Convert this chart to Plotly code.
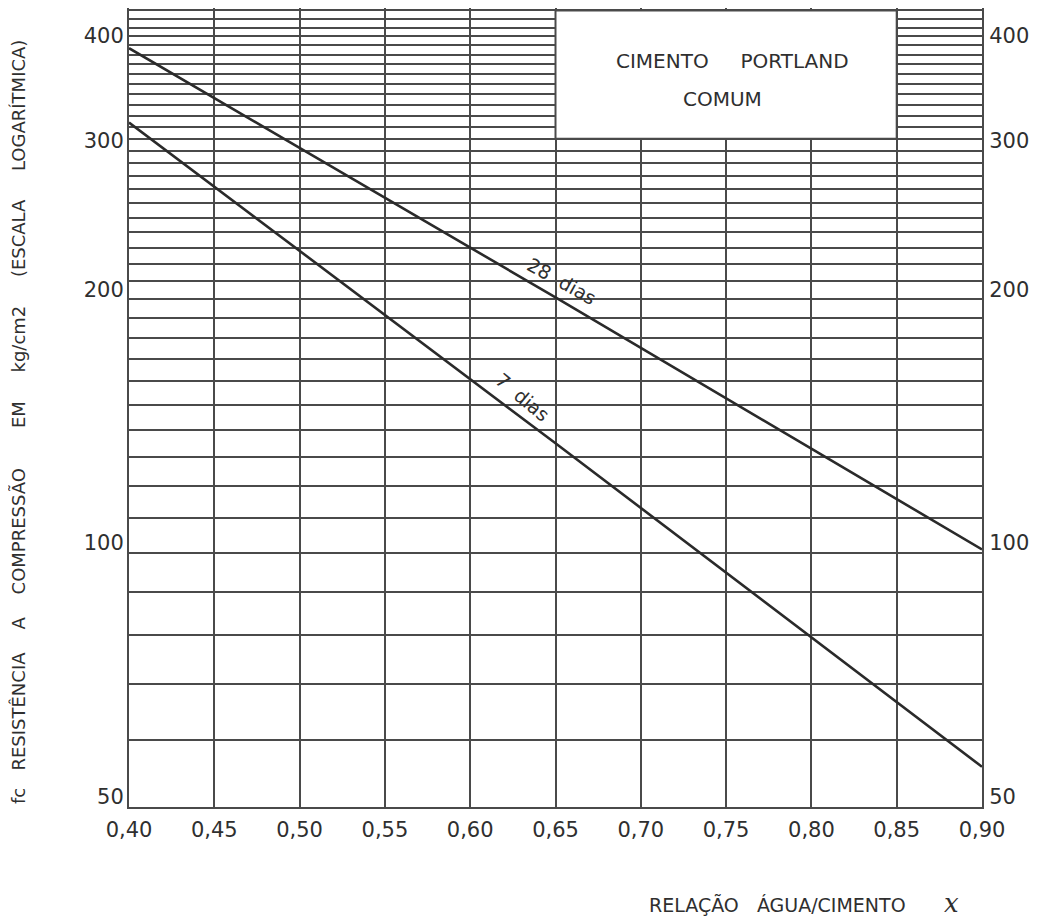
import math
import plotly.graph_objects as go

# ---------------- data ----------------
ratio = [0.40, 0.65, 0.90]                 # water/cement ratio where the lines were read
fc_28_dias = [397, 201, 101]               # kg/cm2, 28 days (straight line on log scale)
fc_7_dias = [324, 135, 55.8]               # kg/cm2, 7 days

x_tick_vals = [0.40, 0.45, 0.50, 0.55, 0.60, 0.65, 0.70, 0.75, 0.80, 0.85, 0.90]
x_tick_text = ["0,40", "0,45", "0,50", "0,55", "0,60", "0,65", "0,70", "0,75", "0,80", "0,85", "0,90"]
y_grid_vals = list(range(50, 450, 10))
y_label_vals = [50, 100, 200, 300, 400]
y_range = [50, 443]

# ---------------- style ----------------
INK = "#2f2f2f"
GRID = "#4a4a4a"
FONT = "DejaVu Sans"
NB = "\u00a0"

y_tick_text = [str(v) if v in y_label_vals else "" for v in y_grid_vals]
log_range = [math.log10(y_range[0]), math.log10(y_range[1])]

fig = go.Figure()
fig.add_trace(go.Scatter(x=ratio, y=fc_28_dias, mode="lines", name="28 dias",
                         line=dict(color="#2a2a2a", width=2.6), hoverinfo="x+y"))
fig.add_trace(go.Scatter(x=ratio, y=fc_7_dias, mode="lines", name="7 dias",
                         line=dict(color="#2a2a2a", width=2.6), hoverinfo="x+y"))
# companion trace so the right-hand axis is drawn
fig.add_trace(go.Scatter(x=ratio, y=fc_28_dias, yaxis="y2", mode="lines",
                         line=dict(width=0, color="rgba(0,0,0,0)"), hoverinfo="skip",
                         showlegend=False))

fig.update_layout(
    width=1037, height=921,
    margin=dict(l=121, r=63, t=0, b=122),
    paper_bgcolor="white", plot_bgcolor="white",
    showlegend=False,
    font=dict(family=FONT, color=INK, size=20),
    xaxis=dict(
        range=[x_tick_vals[0], x_tick_vals[-1]],
        tickmode="array", tickvals=x_tick_vals, ticktext=x_tick_text,
        showgrid=True, gridcolor=GRID, gridwidth=1.8,
        showline=True, linecolor=GRID, linewidth=2,
        ticks="", ticklabelstandoff=3, zeroline=False,
        tickfont=dict(size=21, family=FONT, color=INK),
    ),
    yaxis=dict(
        type="log", range=log_range,
        tickmode="array", tickvals=y_grid_vals, ticktext=y_tick_text,
        showgrid=True, gridcolor=GRID, gridwidth=1.8,
        showline=True, linecolor=GRID, linewidth=2,
        ticks="", ticklabelstandoff=-1, ticklabelshift=-10, zeroline=False,
        tickfont=dict(size=21, family=FONT, color=INK),
    ),
    yaxis2=dict(
        type="log", range=log_range, overlaying="y", side="right", anchor="x",
        tickmode="array", tickvals=y_label_vals, ticktext=[str(v) for v in y_label_vals],
        showgrid=False, showline=True, linecolor=GRID, linewidth=2,
        ticks="", ticklabelstandoff=1, ticklabelshift=-10, zeroline=False,
        tickfont=dict(size=21, family=FONT, color=INK),
    ),
)

# title box "CIMENTO PORTLAND COMUM"
fig.add_shape(type="rect", xref="x", yref="y", x0=0.65, x1=0.85, y0=310, y1=440,
              fillcolor="white", line=dict(color=GRID, width=2), layer="above")

def ann(**kw):
    base = dict(showarrow=False, xanchor="center", yanchor="middle")
    base.update(kw)
    return base

annotations = [
    ann(xref="x", yref="paper", x=0.7535, y=0.9337,
        text="CIMENTO" + NB * 5 + "PORTLAND", font=dict(size=20, family=FONT, color=INK)),
    ann(xref="x", yref="paper", x=0.7476, y=0.8861,
        text="COMUM", font=dict(size=20, family=FONT, color=INK)),
    # curve labels, placed from the curve values
    ann(xref="x", yref="y", x=ratio[1], y=math.log10(fc_28_dias[1]),
        text="28" + NB * 2 + "dias", textangle=29, xshift=6, yshift=16,
        font=dict(size=19, family=FONT, color=INK)),
    ann(xref="x", yref="y", x=ratio[1], y=math.log10(fc_7_dias[1]),
        text="7" + NB * 2 + "dias", textangle=40, xshift=-33, yshift=46,
        font=dict(size=19, family=FONT, color=INK)),
    # y title
    ann(xref="paper", yref="paper", x=(19 - 129) / 853, y=0.4819,
        text=("fc" + NB * 3 + "RESISTÊNCIA" + NB * 4 + "A" + NB * 4 + "COMPRESSÃO" + NB * 7 +
              "EM" + NB * 5 + "kg/cm2" + NB * 5 + "(ESCALA" + NB * 5 + "LOGARÍTMICA)"),
        textangle=-90, font=dict(size=18, family=FONT, color=INK)),
    # x title
    ann(xref="paper", yref="paper", x=0.7608, y=-0.1227,
        text="RELAÇÃO" + NB * 3 + "ÁGUA/CIMENTO", font=dict(size=19, family=FONT, color=INK)),
    ann(xref="paper", yref="paper", x=0.9637, y=-0.1202,
        text="<i>x</i>", font=dict(size=26, family="DejaVu Serif", color=INK)),
]
fig.update_layout(annotations=annotations)

fig.write_html("out.html")
